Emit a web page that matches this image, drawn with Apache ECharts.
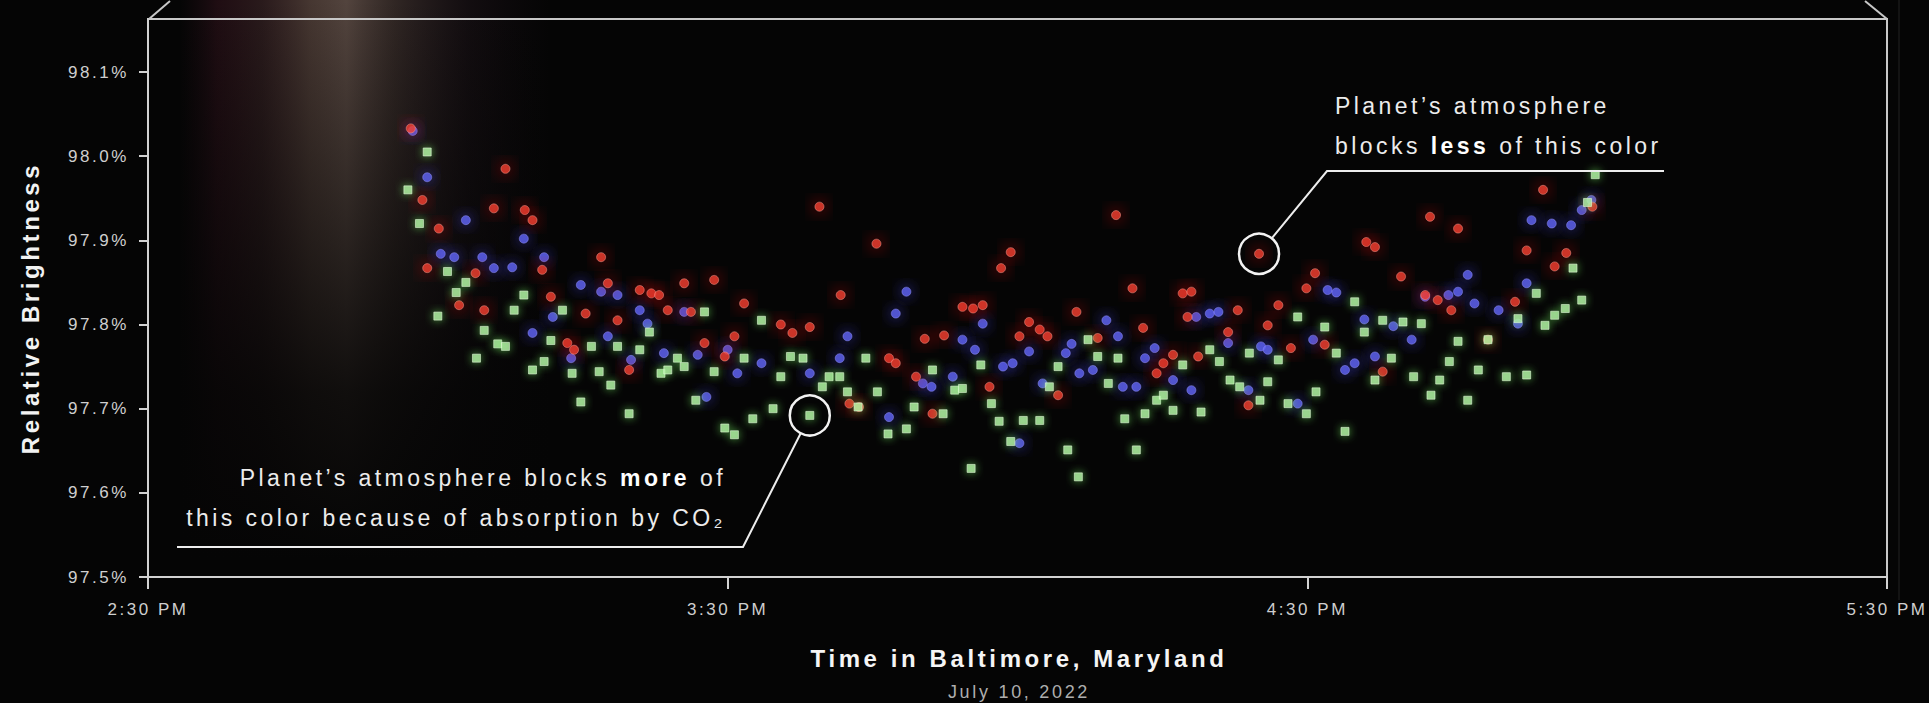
<!DOCTYPE html>
<html>
<head>
<meta charset="utf-8">
<script src="https://cdn.jsdelivr.net/npm/echarts@6/dist/echarts.min.js"></script>
<style>
html, body { margin: 0; padding: 0; background: #050505; overflow: hidden; }
#main { width: 1929px; height: 703px; }
#main svg text { letter-spacing: 0.15em; }
</style>
</head>
<body>
<div id="main"></div>
<script>
// ---------- data (time = minutes after 2:30 PM, value = relative brightness %) ----------
const xTickMinutes = [0, 60, 120, 180];
const xTickLabels = ['2:30 PM', '3:30 PM', '4:30 PM', '5:30 PM'];
const yTicks = [97.5, 97.6, 97.7, 97.8, 97.9, 98.0, 98.1];

const redPoints = [[27.2,98.033],[28.4,97.948],[28.9,97.867],[30.1,97.914],[32.2,97.823],[33.9,97.861],[34.8,97.817],[35.8,97.938],[37.0,97.985],[39.0,97.936],[39.8,97.924],[40.8,97.865],[41.7,97.833],[43.4,97.778],[44.1,97.770],[45.3,97.813],[46.9,97.880],[47.6,97.849],[48.6,97.805],[49.8,97.746],[50.9,97.841],[52.1,97.837],[52.9,97.835],[53.8,97.817],[55.5,97.849],[56.2,97.815],[57.6,97.778],[58.6,97.853],[59.7,97.762],[60.7,97.786],[61.7,97.825],[65.5,97.800],[66.7,97.790],[68.5,97.797],[69.5,97.940],[71.7,97.835],[72.6,97.706],[73.6,97.702],[75.4,97.896],[76.7,97.760],[77.4,97.754],[79.5,97.738],[80.4,97.783],[81.2,97.694],[82.4,97.787],[84.3,97.821],[85.4,97.819],[86.4,97.823],[87.1,97.726],[88.3,97.867],[89.3,97.886],[90.2,97.786],[91.2,97.803],[92.3,97.794],[93.1,97.786],[94.2,97.716],[96.1,97.815],[98.3,97.784],[100.2,97.930],[101.9,97.843],[103.0,97.796],[104.4,97.742],[105.1,97.754],[106.1,97.764],[107.1,97.837],[107.6,97.809],[108.0,97.839],[108.7,97.762],[111.8,97.791],[112.8,97.817],[113.9,97.704],[115.0,97.884],[115.9,97.799],[117.0,97.823],[118.3,97.772],[119.9,97.843],[120.8,97.861],[121.8,97.776],[126.1,97.898],[127.0,97.892],[127.8,97.744],[129.7,97.857],[132.2,97.835],[132.7,97.928],[133.5,97.829],[134.9,97.817],[135.6,97.914],[138.7,97.782],[141.5,97.827],[142.7,97.888],[144.4,97.960],[145.6,97.869],[146.8,97.885],[149.5,97.940]];

const bluePoints = [[27.4,98.030],[28.9,97.975],[30.3,97.884],[31.7,97.880],[32.9,97.924],[34.6,97.880],[35.8,97.867],[37.7,97.868],[38.9,97.902],[39.8,97.790],[41.0,97.880],[41.9,97.809],[43.8,97.760],[44.8,97.847],[46.9,97.839],[47.6,97.786],[48.6,97.835],[50.0,97.758],[50.9,97.817],[51.7,97.801],[53.4,97.766],[55.5,97.815],[56.9,97.764],[57.8,97.714],[60.0,97.770],[61.0,97.742],[63.5,97.754],[68.5,97.742],[71.6,97.760],[72.4,97.786],[76.7,97.690],[77.4,97.813],[78.5,97.839],[80.2,97.730],[81.1,97.726],[83.3,97.738],[84.3,97.782],[85.6,97.770],[86.4,97.801],[88.5,97.750],[89.5,97.754],[90.2,97.659],[91.2,97.768],[92.6,97.730],[95.0,97.766],[95.6,97.777],[96.4,97.742],[97.8,97.746],[99.2,97.805],[100.4,97.786],[100.9,97.726],[102.3,97.726],[103.2,97.760],[104.2,97.772],[106.1,97.734],[108.0,97.722],[108.5,97.809],[109.9,97.813],[110.8,97.815],[111.8,97.778],[113.9,97.722],[115.2,97.774],[115.9,97.770],[119.0,97.706],[120.6,97.782],[122.1,97.841],[123.0,97.838],[123.9,97.746],[124.9,97.754],[125.9,97.806],[127.0,97.762],[128.9,97.798],[130.8,97.782],[132.2,97.833],[134.6,97.835],[135.6,97.839],[136.6,97.859],[137.3,97.825],[139.8,97.817],[141.8,97.801],[142.7,97.849],[143.2,97.924],[145.3,97.920],[147.3,97.918],[148.4,97.936],[149.4,97.948]];

const greenPoints = [[26.9,97.960],[28.1,97.920],[28.9,98.005],[30.0,97.810],[31.0,97.863],[31.9,97.838],[32.9,97.850],[34.0,97.760],[34.8,97.793],[36.2,97.777],[37.0,97.774],[37.9,97.817],[38.9,97.835],[39.8,97.746],[41.0,97.756],[41.7,97.781],[42.9,97.817],[43.9,97.742],[44.8,97.708],[45.9,97.774],[46.7,97.744],[47.9,97.728],[48.6,97.774],[49.8,97.694],[50.9,97.770],[51.9,97.791],[53.1,97.742],[53.8,97.746],[54.8,97.760],[55.5,97.750],[56.7,97.710],[57.6,97.815],[58.6,97.744],[59.7,97.677],[60.7,97.669],[61.7,97.760],[62.6,97.688],[63.5,97.805],[64.7,97.700],[65.5,97.738],[66.5,97.762],[67.8,97.760],[68.5,97.692],[69.8,97.726],[70.5,97.738],[71.6,97.738],[72.4,97.720],[73.5,97.702],[74.3,97.760],[75.5,97.720],[76.6,97.670],[78.5,97.676],[79.3,97.702],[81.2,97.746],[82.3,97.694],[83.5,97.722],[84.3,97.724],[85.2,97.629],[86.2,97.752],[87.3,97.706],[88.1,97.685],[89.3,97.661],[90.6,97.686],[92.3,97.686],[93.3,97.726],[94.2,97.750],[95.2,97.651],[96.3,97.619],[97.3,97.782],[98.3,97.762],[99.4,97.730],[100.4,97.760],[101.1,97.688],[102.3,97.651],[103.2,97.694],[104.4,97.710],[105.1,97.716],[106.1,97.698],[107.1,97.752],[109.0,97.696],[109.9,97.770],[110.9,97.756],[112.0,97.734],[113.0,97.726],[114.0,97.766],[115.1,97.710],[115.9,97.732],[117.0,97.758],[118.0,97.706],[119.0,97.809],[119.9,97.694],[120.9,97.720],[121.8,97.797],[123.0,97.766],[123.9,97.673],[124.9,97.827],[125.9,97.791],[127.0,97.734],[127.8,97.805],[128.7,97.760],[129.9,97.803],[131.0,97.738],[131.8,97.801],[132.8,97.716],[133.7,97.734],[134.7,97.756],[135.6,97.780],[136.6,97.710],[137.7,97.746],[138.7,97.782],[140.6,97.738],[141.8,97.807],[142.7,97.740],[143.7,97.837],[144.6,97.799],[145.6,97.811],[146.7,97.819],[147.5,97.867],[148.4,97.829],[149.0,97.945],[149.8,97.978]];

// annotated points (times of the circled observations)
const circledLessTime = 115.0;   // red point
const circledMoreTime = 68.5;    // green point

// ---------- text measurement consistent with CSS letter-spacing ----------
const FONT = '"Liberation Sans", Arial, Helvetica, sans-serif';
const LS_EM = 0.15;
const mctx = document.createElement('canvas').getContext('2d');
if (echarts.setPlatformAPI) {
  echarts.setPlatformAPI({
    measureText: function (text, font) {
      mctx.font = font || ('12px ' + FONT);
      const m = /(\d+(?:\.\d+)?)px/.exec(mctx.font);
      const fs = m ? parseFloat(m[1]) : 12;
      const tm = mctx.measureText(text);
      const extra = LS_EM * fs * Array.from(String(text)).length;
      return {
        width: tm.width + extra,
        actualBoundingBoxAscent: tm.actualBoundingBoxAscent,
        actualBoundingBoxDescent: tm.actualBoundingBoxDescent,
        actualBoundingBoxLeft: tm.actualBoundingBoxLeft,
        actualBoundingBoxRight: tm.actualBoundingBoxRight + extra,
        fontBoundingBoxAscent: tm.fontBoundingBoxAscent,
        fontBoundingBoxDescent: tm.fontBoundingBoxDescent
      };
    }
  });
}

const chart = echarts.init(document.getElementById('main'), null, { renderer: 'svg', width: 1929, height: 703 });

const axisColor = '#d2d2d2';
const option = {
  backgroundColor: '#050505',
  animation: false,
  grid: {
    left: 148, right: 42, top: 19, bottom: 126,
    show: true, borderColor: '#c8c8c8', borderWidth: 2, backgroundColor: 'transparent',
    outerBoundsMode: 'none', containLabel: false
  },
  xAxis: {
    type: 'value', min: 0, max: 180, interval: 60,
    axisLine: { onZero: false, lineStyle: { color: axisColor, width: 2 } },
    axisTick: { show: true, length: 12, lineStyle: { color: axisColor, width: 2 } },
    axisLabel: {
      color: '#cfcfcf', fontSize: 17, fontFamily: FONT, margin: 23,
      formatter: function (v) { const i = xTickMinutes.indexOf(v); return i >= 0 ? xTickLabels[i] : ''; }
    },
    splitLine: { show: false }
  },
  yAxis: {
    type: 'value', min: 97.5, max: 98.163, interval: 0.1,
    axisLine: { show: true, onZero: false, lineStyle: { color: axisColor, width: 2 } },
    axisTick: { show: true, length: 9, customValues: yTicks, lineStyle: { color: axisColor, width: 2 } },
    axisLabel: {
      color: '#cfcfcf', fontSize: 17, fontFamily: FONT, margin: 19, customValues: yTicks,
      formatter: function (v) {
        return yTicks.some(function (t) { return Math.abs(t - v) < 1e-6; }) ? v.toFixed(1) + '%' : '';
      }
    },
    splitLine: { show: false }
  },
  series: [
    {
      name: 'Blue', type: 'scatter', data: bluePoints, symbol: 'circle', symbolSize: 9, z: 2, silent: true,
      itemStyle: { color: '#6264f6', borderColor: 'rgba(150,150,255,0.6)', borderWidth: 1, shadowBlur: 14, shadowColor: 'rgba(70,70,255,1)' }
    },
    {
      name: 'Red', type: 'scatter', data: redPoints, symbol: 'circle', symbolSize: 9, z: 3, silent: true,
      itemStyle: { color: '#f4402f', borderColor: 'rgba(255,150,140,0.6)', borderWidth: 1, shadowBlur: 16, shadowColor: 'rgba(255,30,20,1)' }
    },
    {
      name: 'Green', type: 'scatter', data: greenPoints, symbol: 'rect', symbolSize: 8, z: 4, silent: true,
      itemStyle: { color: '#b4f5a6', borderColor: 'rgba(230,255,220,0.7)', borderWidth: 1, shadowBlur: 8, shadowColor: 'rgba(120,255,100,0.8)' }
    }
  ]
};
chart.setOption(option);

// ---------- overlay: annotations, titles, glow ----------
const lessPoint = redPoints.find(function (p) { return p[0] === circledLessTime; });
const morePoint = greenPoints.find(function (p) { return p[0] === circledMoreTime; });
const cL = chart.convertToPixel({ gridIndex: 0 }, lessPoint);
const cM = chart.convertToPixel({ gridIndex: 0 }, morePoint);
const R = 20;
function edge(c, to) {
  const dx = to[0] - c[0], dy = to[1] - c[1], l = Math.hypot(dx, dy);
  return [c[0] + R * dx / l, c[1] + R * dy / l];
}
const lessElbow = [1327, 171], lessEnd = [1664, 171];
const moreElbow = [743, 547], moreEnd = [177, 547];
const lineStyle = { stroke: '#ededed', lineWidth: 2, fill: null };

function lin(x2, y2, stops) {
  return { type: 'linear', x: 0, y: 0, x2: x2, y2: y2, colorStops: stops };
}

chart.setOption({
  graphic: [
    // soft light beam in the upper left
    { type: 'rect', silent: true, z: -3, shape: { x: 180, y: 0, width: 370, height: 560 },
      style: { fill: lin(1, 0, [
        { offset: 0, color: 'rgba(120,40,70,0)' },
        { offset: 0.1, color: 'rgba(150,50,80,0.18)' },
        { offset: 0.22, color: 'rgba(150,90,95,0.25)' },
        { offset: 0.35, color: 'rgba(175,135,120,0.38)' },
        { offset: 0.45, color: 'rgba(190,155,140,0.42)' },
        { offset: 0.58, color: 'rgba(160,125,115,0.28)' },
        { offset: 0.78, color: 'rgba(110,70,90,0.13)' },
        { offset: 1, color: 'rgba(80,40,70,0)' }
      ]) } },
    { type: 'rect', silent: true, z: -2, shape: { x: 180, y: 0, width: 370, height: 560 },
      style: { fill: lin(0, 1, [
        { offset: 0, color: 'rgba(5,5,5,0)' },
        { offset: 0.12, color: 'rgba(5,5,5,0.15)' },
        { offset: 0.7, color: 'rgba(5,5,5,0.85)' },
        { offset: 1, color: 'rgba(5,5,5,1)' }
      ]) } },
    // faint outer line and corner strokes of the frame
    { type: 'line', silent: true, z: 1, shape: { x1: 1899, y1: 0, x2: 1899, y2: 600 },
      style: { stroke: 'rgba(255,255,255,0.12)', lineWidth: 1 } },
    { type: 'line', silent: true, z: 1, shape: { x1: 149, y1: 19, x2: 170, y2: 1 },
      style: { stroke: '#c8c8c8', lineWidth: 2 } },
    { type: 'line', silent: true, z: 1, shape: { x1: 1887, y1: 19, x2: 1865, y2: 1 },
      style: { stroke: '#c8c8c8', lineWidth: 2 } },

    // annotation: blocks less
    { type: 'circle', silent: true, z: 20, shape: { cx: cL[0], cy: cL[1], r: R },
      style: { stroke: '#f2f2f2', lineWidth: 2.5, fill: null } },
    { type: 'polyline', silent: true, z: 20, shape: { points: [edge(cL, lessElbow), lessElbow, lessEnd] },
      style: lineStyle },
    { type: 'text', silent: true, z: 20, x: 1335, y: 86,
      style: {
        text: 'Planet’s atmosphere\nblocks {b|less} of this color',
        fill: '#ececec', fontSize: 23, fontFamily: FONT, lineHeight: 40,
        textAlign: 'left', align: 'left', textVerticalAlign: 'top', verticalAlign: 'top',
        rich: { b: { fontWeight: 'bold', fontSize: 23, fontFamily: FONT, fill: '#ffffff', lineHeight: 40 } }
      } },

    // annotation: blocks more
    { type: 'circle', silent: true, z: 20, shape: { cx: cM[0], cy: cM[1], r: R },
      style: { stroke: '#f2f2f2', lineWidth: 2.5, fill: null } },
    { type: 'polyline', silent: true, z: 20, shape: { points: [moreEnd, moreElbow, edge(cM, moreElbow)] },
      style: lineStyle },
    { type: 'text', silent: true, z: 20, x: 726, y: 458,
      style: {
        text: 'Planet’s atmosphere blocks {b|more} of\nthis color because of absorption by CO₂',
        fill: '#ececec', fontSize: 23, fontFamily: FONT, lineHeight: 40,
        textAlign: 'right', align: 'right', textVerticalAlign: 'top', verticalAlign: 'top',
        rich: { b: { fontWeight: 'bold', fontSize: 23, fontFamily: FONT, fill: '#ffffff', lineHeight: 40 } }
      } },

    // axis titles
    { type: 'text', silent: true, z: 20, x: 30, y: 308, rotation: Math.PI / 2,
      style: { text: 'Relative Brightness', fill: '#f2f2f2', fontSize: 24, fontWeight: 'bold', fontFamily: FONT,
        textAlign: 'center', align: 'center', textVerticalAlign: 'middle', verticalAlign: 'middle' } },
    { type: 'text', silent: true, z: 20, x: 1019, y: 658,
      style: { text: 'Time in Baltimore, Maryland', fill: '#f5f5f5', fontSize: 24, fontWeight: 'bold', fontFamily: FONT,
        textAlign: 'center', align: 'center', textVerticalAlign: 'middle', verticalAlign: 'middle' } },
    { type: 'text', silent: true, z: 20, x: 1019, y: 692,
      style: { text: 'July 10, 2022', fill: '#aeaeae', fontSize: 18, fontFamily: FONT,
        textAlign: 'center', align: 'center', textVerticalAlign: 'middle', verticalAlign: 'middle' } }
  ]
});
</script>
</body>
</html>
